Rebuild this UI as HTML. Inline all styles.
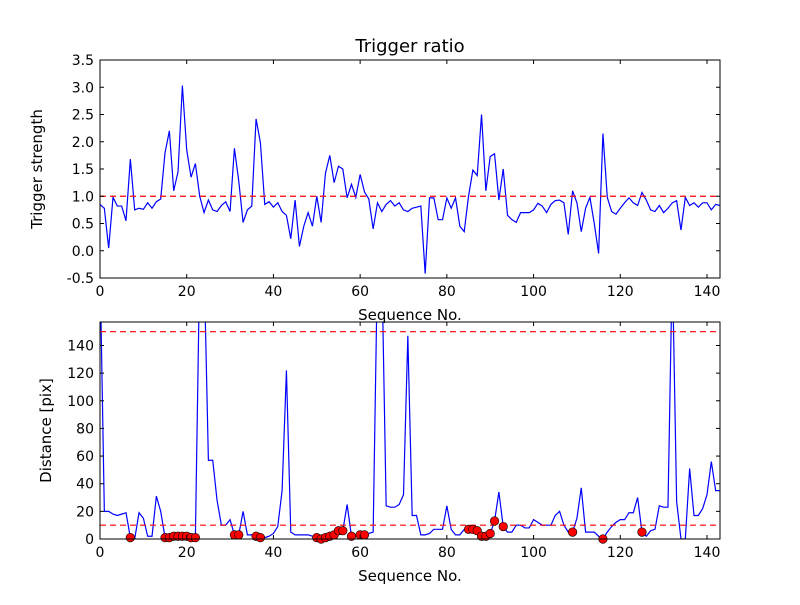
<!DOCTYPE html>
<html><head><meta charset="utf-8"><style>
body{margin:0;background:#fff;}
svg text{font-family:"DejaVu Sans","Liberation Sans",sans-serif;}
</style></head><body>
<svg id="c" width="800" height="600" xmlns="http://www.w3.org/2000/svg">
<rect width="800" height="600" fill="#fff"/>
</svg>
<script>
const strength=[0.85,0.78,0.05,0.98,0.82,0.82,0.55,1.68,0.75,0.78,0.76,0.88,0.78,0.9,0.95,1.8,2.2,1.1,1.45,3.03,1.85,1.35,1.6,1.0,0.7,0.93,0.75,0.72,0.83,0.9,0.72,1.88,1.28,0.52,0.75,0.82,2.42,1.98,0.85,0.9,0.8,0.88,0.72,0.65,0.22,0.93,0.08,0.45,0.7,0.45,1.0,0.52,1.42,1.75,1.25,1.55,1.5,0.97,1.22,0.98,1.4,1.08,0.95,0.4,0.88,0.72,0.85,0.92,0.82,0.88,0.75,0.72,0.78,0.8,0.82,-0.42,0.97,0.97,0.57,0.57,0.97,0.78,0.97,0.45,0.35,1.0,1.48,1.38,2.5,1.1,1.73,1.78,0.93,1.5,0.65,0.57,0.52,0.7,0.7,0.7,0.75,0.87,0.82,0.7,0.85,0.92,0.93,0.88,0.3,1.1,0.88,0.35,0.78,0.98,0.5,-0.05,2.15,0.98,0.72,0.67,0.78,0.88,0.97,0.88,0.83,1.07,0.93,0.75,0.72,0.83,0.7,0.78,0.88,0.92,0.38,0.98,0.83,0.88,0.8,0.88,0.88,0.75,0.85,0.83];
const distance=[200,20,20,18,17,18,19,1,0,19,15,2,2,31,20,1,1,2,2,2,2,1,1,200,200,57,57,28,10,10,14,3,3,20,3,3,2,1,1,2,4,9,35,122,5,3,3,3,3,2,1,0,1,2,3,6,6,25,2,2,3,3,4,5,200,200,24,23,23,25,32,147,17,17,3,3,4,7,7,7,24,7,3,3,7,7,7,6,2,2,4,13,34,9,5,5,10,10,8,8,14,12,10,10,10,17,20,10,5,5,15,37,5,5,5,2,0,5,9,12,14,14,19,19,30,5,2,6,7,24,23,23,200,27,0,0,51,17,17,22,32,56,35,35];
const markerIdx=[7,15,16,17,18,19,20,21,22,31,32,36,37,50,51,52,53,54,55,56,58,60,61,85,86,87,88,89,90,91,93,109,116,125];
const xTicks=[0,20,40,60,80,100,120,140];
const yTopTicks=[-0.5,0.0,0.5,1.0,1.5,2.0,2.5,3.0,3.5];
const yBotTicks=[0,20,40,60,80,100,120,140];
const topThresh=[1.0];
const botThresh=[10,150];

const svg=document.getElementById('c');
const NS='http://www.w3.org/2000/svg';
function mk(tag,attrs,parent){const e=document.createElementNS(NS,tag);for(const k in attrs)e.setAttribute(k,attrs[k]);(parent||svg).appendChild(e);return e;}
const L=100,R=720;
const sx=v=>L+v/143*(R-L);
function panel(T,B,ymin,ymax,series,yt,thr,name,ylabel,clipId,markers,title){
  const sy=v=>B-(v-ymin)/(ymax-ymin)*(B-T);
  const g=mk('g',{});
  
  
  const cp=mk('clipPath',{id:clipId},g);mk('rect',{x:L,y:T,width:R-L,height:B-T},cp);
  const pts=series.map((v,i)=>sx(i).toFixed(2)+','+sy(v).toFixed(2)).join(' ');
  const line=mk('polyline',{points:pts,fill:'none',stroke:'#0000ff','stroke-width':1.2,'clip-path':'url(#'+clipId+')'},g);
  
  
  thr.forEach(t=>{const l=mk('line',{x1:L,x2:R,y1:sy(t),y2:sy(t),stroke:'#ff0000','stroke-width':1.2,'stroke-dasharray':'6,4'},g);
    
    });
  if(markers){markers.forEach(i=>{const c=mk('circle',{cx:sx(i),cy:sy(series[i]),r:4.3,fill:'#ff0000',stroke:'#000','stroke-width':0.6,'clip-path':'url(#'+clipId+'m)'},g);
    
    });
    const cp2=mk('clipPath',{id:clipId+'m'},g);mk('rect',{x:L-5,y:T,width:R-L+10,height:B-T+6},cp2);}
  const fr=mk('rect',{x:L,y:T,width:R-L,height:B-T,fill:'none',stroke:'#000','stroke-width':1},g);
  
  
  xTicks.forEach(v=>{const x=sx(v);mk('line',{x1:x,x2:x,y1:B,y2:B-4,stroke:'#000'},g);mk('line',{x1:x,x2:x,y1:T,y2:T+4,stroke:'#000'},g);
    const t=mk('text',{x:x,y:B+18,'text-anchor':'middle','font-size':14},g);t.textContent=v;
    
    });
  yt.forEach(v=>{const y=sy(v);mk('line',{x1:L,x2:L+4,y1:y,y2:y,stroke:'#000'},g);mk('line',{x1:R,x2:R-4,y1:y,y2:y,stroke:'#000'},g);
    const t=mk('text',{x:L-6,y:y+5,'text-anchor':'end','font-size':14},g);t.textContent=(ymax<10?v.toFixed(1):v);
    
    });
  const xl=mk('text',{x:(L+R)/2,y:B+42,'text-anchor':'middle','font-size':15},g);xl.textContent='Sequence No.';
  
  
  const yl=mk('text',{x:0,y:0,'text-anchor':'middle','font-size':15,transform:'translate('+(ymax<10?42:51)+','+((T+B)/2)+') rotate(-90)'},g);yl.textContent=ylabel;
  
  
  if(title){const tt=mk('text',{x:(L+R)/2,y:T-8,'text-anchor':'middle','font-size':18},g);tt.textContent=title;
    
    }
}
panel(60,278,-0.5,3.5,strength,yTopTicks,topThresh,'trigger-strength-panel','Trigger strength','c1',null,'Trigger ratio');
panel(322,539,0,157,distance,yBotTicks,botThresh,'distance-panel','Distance [pix]','c2',markerIdx,null);
</script>
</body></html>
